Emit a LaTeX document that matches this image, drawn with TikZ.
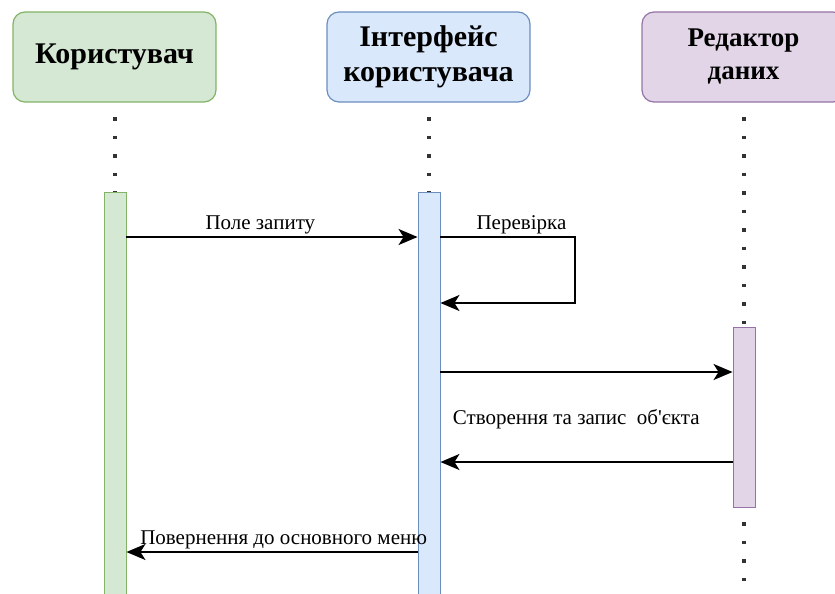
\documentclass[tikz,border=0pt]{standalone}
\usepackage{fontspec}
\setmainfont{Liberation Serif}
\usetikzlibrary{arrows.meta,positioning}
\definecolor{usrfill}{HTML}{D5E8D4}
\definecolor{usrline}{HTML}{82B366}
\definecolor{uifill}{HTML}{DAE8FC}
\definecolor{uiline}{HTML}{6C8EBF}
\definecolor{edfill}{HTML}{E1D5E7}
\definecolor{edline}{HTML}{9673A6}
\begin{document}
\begin{tikzpicture}[x=1pt,y=-1pt,
  actor/.style={draw,line width=1.2pt,rounded corners=12pt,minimum width=203pt,minimum height=90pt,align=center,inner sep=0pt,font=\bfseries\fontsize{30}{35}\selectfont},
  bar/.style={draw,line width=0.9pt,minimum width=22pt,inner sep=0pt,anchor=north},
  life/.style={line width=3.5pt,dash pattern=on 3.5pt off 15pt,dash phase=4pt,black!80},
  msg/.style={line width=2pt,-{Stealth[length=19pt,width=16pt,inset=5pt]}},
  lbl/.style={font=\fontsize{21}{24}\selectfont,inner sep=2pt}]
\useasboundingbox (0,0) rectangle (835,594);
\clip (0,0) rectangle (835,594);
% Actors
\node[actor,fill=usrfill,draw=usrline] (usr) at (114.5,57) {Користувач};
\node[actor,fill=uifill,draw=uiline] (ui) at (428.5,57) {Інтерфейс\\користувача};
\node[actor,fill=edfill,draw=edline,font=\bfseries\fontsize{27}{33}\selectfont] (ed) at (743.5,57) {Редактор\\даних};
% Activation bars
\node[bar,fill=usrfill,draw=usrline,minimum height=410pt] (ubar) at (115,192) {};
\node[bar,fill=uifill,draw=uiline,minimum height=410pt] (uibar) at (429,192) {};
\node[bar,fill=edfill,draw=edline,minimum height=180pt] (ebar) at (744,327) {};
% Lifelines
\draw[life] (usr.south -| ubar) -- (ubar.north);
\draw[life] (ui.south -| uibar) -- (uibar.north);
\draw[life] (ed.south -| ebar) -- (ebar.north);
\coordinate (bot) at (744,600);
\draw[life] (ebar.south) -- (bot);
% Message rows
\coordinate (m1) at (0,237);
\coordinate (m2) at (0,303);
\coordinate (m3) at (0,372);
\coordinate (m4) at (0,462);
\coordinate (m5) at (0,552);
% Messages
\draw[msg] (ubar.east |- m1) -- (uibar.west |- m1) node[lbl,above,pos=0.46] {Поле запиту};
\draw[msg] (uibar.east |- m1) -- ++(135,0) node[lbl,above,pos=0.6] {Перевірка} |- (uibar.east |- m2);
\draw[msg] (uibar.east |- m3) -- (ebar.west |- m3);
\draw[msg] (ebar.west |- m4) -- (uibar.east |- m4) node[lbl,above,pos=0.535,yshift=30pt] {Створення та запис\ \ об\textquotesingle єкта};
\draw[msg] (uibar.west |- m5) -- (ubar.east |- m5) node[lbl,above,pos=0.46] {Повернення до основного меню};
\end{tikzpicture}
\end{document}
